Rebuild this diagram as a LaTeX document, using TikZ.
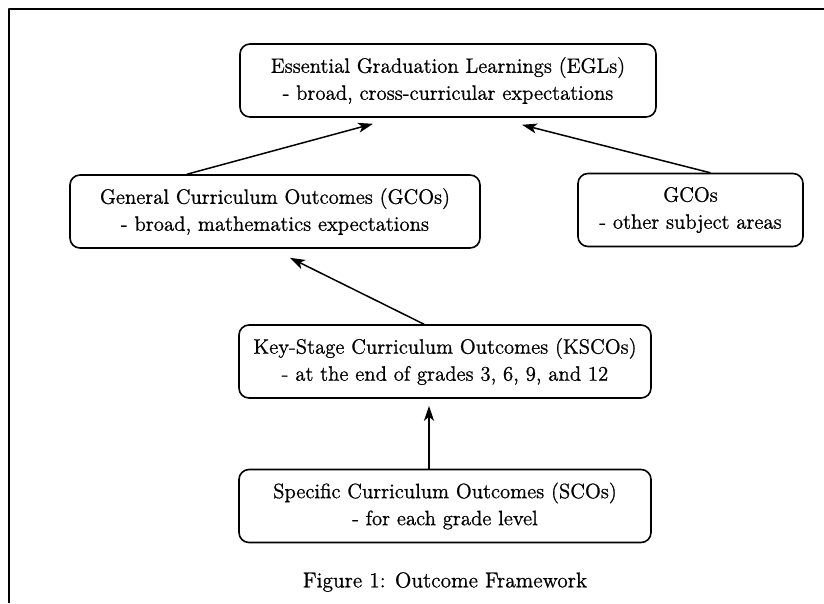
\documentclass[tikz,border=0pt]{standalone}
\usepackage{fontspec}
\newfontfamily\outfont{lmroman12-regular}[Extension=.otf,FakeBold=0.9]
\usepackage{tikz}
\usetikzlibrary{arrows.meta,calc}

\begin{document}
\begin{tikzpicture}[x=1pt,y=-1pt,line join=round,line cap=round,
  outbox/.style={draw,line width=1.6pt,rounded corners=10pt,align=center,inner sep=0pt,
    minimum height=73pt,font=\outfont\fontsize{20.8}{27}\selectfont},
  link/.style={line width=1.5pt,-{Stealth[length=15pt,width=10pt,inset=4pt]}}]
\useasboundingbox (0,0) rectangle (824,603);
\draw[line width=2.6pt,line cap=butt] (9,603)--(9,9)--(824,9);
\node[outbox,minimum width=416pt] (egl) at (448,80.5) {Essential Graduation Learnings (EGLs)\\- broad, cross-curricular expectations};
\node[outbox,minimum width=410pt] (gco) at (275,211.5) {General Curriculum Outcomes (GCOs)\\- broad, mathematics expectations};
\node[outbox,minimum width=225pt] (other) at (690.5,210) {GCOs\\- other subject areas};
\node[outbox,minimum width=412pt] (ksco) at (445,361.5) {Key-Stage Curriculum Outcomes (KSCOs)\\- at the end of grades 3, 6, 9, and 12};
\node[outbox,minimum width=412pt] (sco) at (445,506) {Specific Curriculum Outcomes (SCOs)\\- for each grade level};
\node[font=\outfont\fontsize{21.5}{24}\selectfont] (cap) at (445,582) {Figure 1: Outcome Framework};
\draw[link] ($(gco.north)+(-88,0)$) -- ($(egl.south)+(-75,6)$);
\draw[link] ($(other.north)+(19.5,0)$) -- ($(egl.south)+(74,7)$);
\draw[link] ($(ksco.north)+(-21,0)$) -- ($(gco.south)+(15,9)$);
\draw[link] ($(sco.north)+(-16,0)$) -- ($(ksco.south)+(-16,7)$);
\end{tikzpicture}
\end{document}
